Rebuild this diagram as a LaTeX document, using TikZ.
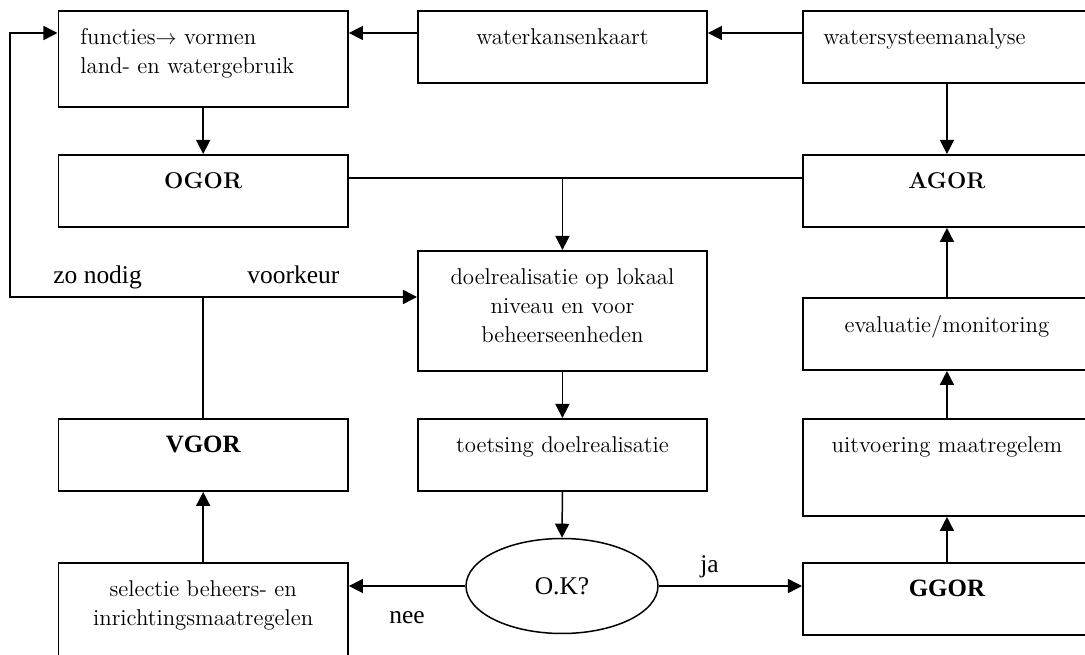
\documentclass[tikz,border=0pt]{standalone}
\usepackage{fontspec}
\usepackage{tikz}
\usetikzlibrary{arrows.meta, shapes.geometric, positioning, calc}
\newfontfamily\lblfont{Liberation Serif}

\begin{document}
\begin{tikzpicture}[
    x=0.02cm, y=-0.02cm,
    >={Triangle[length=8pt, width=8pt]},
    box/.style={draw, line width=1.1pt, anchor=north west, inner sep=0pt, minimum width=5.78cm, minimum height=1.44cm},
    okbox/.style={draw, line width=0.85pt, ellipse, inner sep=0pt, minimum width=3.84cm, minimum height=1.9cm},
    boxtxt/.style={font=\fontsize{13}{16.5}\selectfont, inner sep=0pt, anchor=north, align=center},
    lbl/.style={font=\lblfont\fontsize{14.5}{17}\selectfont, inner sep=0pt, anchor=base west},
    boldlbl/.style={font=\lblfont\bfseries\fontsize{14.2}{17}\selectfont, inner sep=0pt, anchor=north},
    link/.style={line width=0.85pt},
    arr/.style={link, ->},
]

% --- Page frame (right and bottom boxes run off the edge) ---
\useasboundingbox (0,0) rectangle (1085,655);
\clip (0,0) rectangle (1085,655);

% --- Top row ---
\node[box, minimum width=5.79cm, minimum height=1.92cm] (func) at (57.5,10) {};
\node[box] (kaart) at (417,10) {};
\node[box, minimum width=5.76cm] (waters) at (802,10) {};
\node[boxtxt, anchor=north west, align=left] (func-t) at (80,28) {functies$\rightarrow$ vormen\\land- en watergebruik};
\node[boxtxt] (kaart-t) at ([yshift=-0.36cm]kaart.north) {waterkansenkaart};
\node[boxtxt, anchor=north west] (waters-t) at (823,28) {watersysteemanalyse};

% --- Second row: OGOR / AGOR ---
\node[box, minimum width=5.79cm] (ogor) at (57.5,154) {};
\node[box, minimum width=5.76cm] (agor) at (802,154) {};
\node[boxtxt] (ogor-t) at ([yshift=-0.36cm]ogor.north) {\textbf{OGOR}};
\node[boxtxt] (agor-t) at ([yshift=-0.36cm]agor.north) {\textbf{AGOR}};

% --- Middle column and right column ---
\node[box, minimum height=2.4cm] (doel) at (417,250) {};
\node[boxtxt] (doel-t) at ([yshift=-0.36cm]doel.north) {doelrealisatie op lokaal\\niveau en voor\\beheerseenheden};
\node[box, minimum width=5.76cm] (eval) at (802,297) {};
\node[boxtxt] (eval-t) at ([yshift=-0.36cm]eval.north) {evaluatie/monitoring};

\node[box, minimum width=5.79cm] (vgor) at (57.5,418) {};
\node[boldlbl] (vgor-t) at ([yshift=-0.36cm]vgor.north) {VGOR};
\node[box] (toets) at (417,418) {};
\node[boxtxt] (toets-t) at ([yshift=-0.36cm]toets.north) {toetsing doelrealisatie};
\node[box, minimum width=5.76cm, minimum height=1.94cm] (uitv) at (802,418) {};
\node[boxtxt] (uitv-t) at ([yshift=-0.36cm]uitv.north) {uitvoering maatregelem};

% --- Bottom row ---
\node[box, minimum width=5.79cm, minimum height=2.06cm] (sel) at (57.5,562) {};
\node[boxtxt] (sel-t) at ([yshift=-0.36cm]sel.north) {selectie beheers- en\\inrichtingsmaatregelen};
\node[okbox, font=\lblfont\fontsize{14.5}{17}\selectfont] (ok) at (562,586) {O.K?};
\node[box, minimum width=5.76cm] (ggor) at (802,562) {};
\node[boldlbl] (ggor-t) at ([yshift=-0.36cm]ggor.north) {GGOR};

% --- Helper rows for the elbow connectors ---
\coordinate (toprow) at (0,33);
\coordinate (midrow) at (0,178);
\coordinate (looprow) at (10,297);

% --- Connectors, top part ---
\draw[arr] (waters.west |- toprow) -- (kaart.east |- toprow);
\draw[arr] (kaart.west |- toprow) -- (func.east |- toprow);
\draw[arr] (func.south) -- (ogor.north);
\draw[arr] (waters.south) -- (agor.north);
\draw[link] (ogor.east |- midrow) -- (agor.west |- midrow);
\draw[arr] (doel.north |- midrow) -- (doel.north);

% --- Feedback loop from VGOR ---
\draw[link] (vgor.north) -- (vgor.north |- looprow);
\draw[arr] (vgor.north |- looprow) -- (doel.west |- looprow);
\draw[arr] (vgor.north |- looprow) -- (looprow) |- (func.west |- toprow);
\node[lbl] (zonodig) at (53,283) {zo nodig};
\node[lbl] (voorkeur) at (247,283) {voorkeur};

% --- Connectors, lower part ---
\draw[arr] (doel.south) -- (toets.north);
\draw[arr] (toets.south) -- (ok.north);
\draw[arr] (ok.west) -- (sel.east |- ok.west);
\draw[arr] (ok.east) -- (ggor.west |- ok.east);
\node[lbl] (ja) at (700,572) {ja};
\node[lbl] (nee) at (389,623) {nee};
\draw[arr] (sel.north) -- (vgor.south);
\draw[arr] (ggor.north) -- (uitv.south);
\draw[arr] (uitv.north) -- (eval.south);
\draw[arr] (eval.north) -- (agor.south);

\end{tikzpicture}
\end{document}
